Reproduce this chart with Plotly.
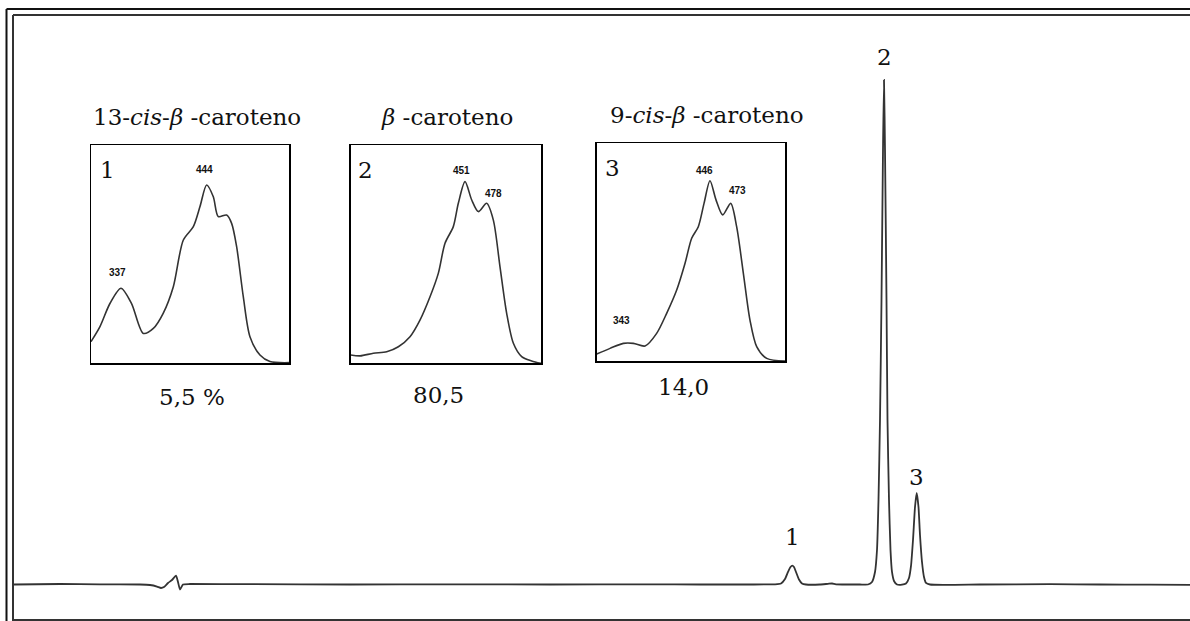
import plotly.graph_objects as go

W, H = 1190, 621

# ---------------- main chromatogram (retention time, min ; signal, % of peak 2) -------------
rt_min = [0.00, 0.46, 0.86, 1.26, 1.36, 1.43, 1.47, 1.50, 1.54, 1.58, 1.62, 1.64, 1.66, 1.69,
          1.76, 2.36, 3.36, 4.36, 5.36, 6.36, 6.86, 7.36, 7.61, 7.67, 7.71, 7.74, 7.765, 7.783,
          7.80, 7.82, 7.85, 7.88, 7.92, 8.06, 8.14, 8.18, 8.22, 8.46, 8.54, 8.58, 8.61, 8.63,
          8.645, 8.66, 8.675, 8.69, 8.70, 8.71, 8.725, 8.735, 8.75, 8.765, 8.78, 8.80, 8.83,
          8.88, 8.92, 8.95, 8.97, 8.99, 9.01, 9.027, 9.045, 9.06, 9.08, 9.10, 9.12, 9.16,
          9.66, 10.36, 10.86, 11.36, 11.76]
signal = [0.0, 0.1, 0.04, 0.0, -0.1, -0.4, -0.69, -0.5, 0.3, 0.89, 1.78, 0.5, -0.99, 0.0,
          0.1, 0.06, 0.0, 0.04, 0.0, 0.02, 0.0, 0.0, 0.04, 0.2, 1.09, 2.48, 3.47, 3.73,
          3.47, 2.48, 0.99, 0.2, 0.0, 0.0, 0.14, 0.2, 0.04, 0.0, 0.0, 0.5, 2.48, 6.84,
          16.75, 32.61, 56.39, 86.12, 100.0, 86.12, 56.39, 32.61, 16.75, 6.84, 2.48, 0.69, 0.0,
          -0.04, 0.2, 1.29, 3.67, 8.82, 15.36, 18.14, 15.36, 9.81, 4.46, 1.49, 0.3, 0.0,
          0.0, 0.06, 0.0, -0.02, -0.06]

peak_labels = ["1", "2", "3"]
peak_rt = [7.783, 8.70, 9.027]

# ---------------- UV-Vis spectra of the three peaks (wavelength nm ; normalised absorbance) ----
wl_1 = [300, 311.3, 324, 337.8, 351, 366, 378.6, 391, 403.8, 416.4, 429, 437.4, 445.8, 454.2,
        460.5, 471, 477.3, 483.6, 492, 500.4, 513, 525.6, 550]
abs_1 = [0.099, 0.168, 0.275, 0.344, 0.275, 0.137, 0.160, 0.229, 0.351, 0.565, 0.626, 0.718,
         0.817, 0.763, 0.672, 0.679, 0.641, 0.534, 0.305, 0.122, 0.038, 0.008, 0.003]

wl_2 = [300, 312.3, 329.8, 347.3, 362.6, 377.9, 391, 404.2, 415.1, 423.9, 434.8, 441.4, 450.2,
        459, 467.7, 478.6, 487.4, 496.1, 504.9, 513.7, 524.6, 537.7, 550]
abs_2 = [0.038, 0.034, 0.046, 0.053, 0.076, 0.122, 0.198, 0.305, 0.412, 0.550, 0.626, 0.733,
         0.832, 0.748, 0.695, 0.733, 0.656, 0.443, 0.229, 0.092, 0.031, 0.011, 0.0]

wl_3 = [300, 317.7, 335.4, 348.7, 364.2, 379.6, 392.9, 406.2, 417.3, 426.1, 434.9, 442.5, 450.4,
        458.4, 467.3, 477.9, 485.8, 494.7, 503.5, 512.4, 525.7, 550]
abs_3 = [0.032, 0.058, 0.081, 0.081, 0.069, 0.127, 0.219, 0.326, 0.449, 0.564, 0.617, 0.724,
         0.828, 0.740, 0.671, 0.724, 0.617, 0.403, 0.188, 0.066, 0.012, 0.0]

inset_titles = ["13-<i>cis</i>-<i>β</i> -caroteno", "<i>β</i> -caroteno", "9-<i>cis</i>-<i>β</i> -caroteno"]
inset_numbers = ["1", "2", "3"]
inset_percent = ["5,5 %", "80,5", "14,0"]
max_labels = [["444", "337"], ["451", "478"], ["446", "473", "343"]]

# ---------------- layout geometry (pixels) ----------------
def px(x):
    return x / W

def py(y):
    return 1 - y / H

boxes = [(91, 289.3, 145, 363.3), (350.7, 541, 145, 363.3), (596.7, 785, 143.3, 361)]
title_pos = [(197, 117), (447, 117), (707, 115)]
number_pos = [(107, 170), (365, 170), (613, 168)]
percent_pos = [(192, 397), (438, 395), (683, 387)]
max_label_xy = [[(443.7, 0.89), (332.8, 0.414)],
                [(446.2, 0.881), (487.0, 0.78)],
                [(442.5, 0.873), (486.3, 0.781), (332.3, 0.184)]]
peak_label_py = [537, 57, 477]

LINE = "#333333"
SERIF = "DejaVu Serif"
FS = 23

fig = go.Figure()
fig.add_trace(go.Scatter(x=rt_min, y=signal, mode="lines",
                         line=dict(color=LINE, width=1.8, shape="spline", smoothing=0.5),
                         xaxis="x", yaxis="y", showlegend=False, hoverinfo="skip"))

spectra = [(wl_1, abs_1), (wl_2, abs_2), (wl_3, abs_3)]
for i, (wl, ab) in enumerate(spectra):
    k = i + 2
    fig.add_trace(go.Scatter(x=wl, y=ab, mode="lines",
                             line=dict(color=LINE, width=1.6, shape="spline", smoothing=0.8),
                             xaxis=f"x{k}", yaxis=f"y{k}", showlegend=False, hoverinfo="skip"))

layout = dict(
    width=W, height=H, margin=dict(l=0, r=0, t=0, b=0),
    paper_bgcolor="white", plot_bgcolor="rgba(0,0,0,0)",
    xaxis=dict(domain=[px(14), 1], range=[0, 11.76], visible=False, fixedrange=True),
    yaxis=dict(domain=[0, 1], range=[(584.5 - 621) / 5.045, 584.5 / 5.045], visible=False,
               fixedrange=True),
)
for i, (l, r, t, b) in enumerate(boxes):
    k = i + 2
    ax = dict(showline=True, mirror=True, linecolor="black", linewidth=1.5,
              showgrid=False, zeroline=False, showticklabels=False, ticks="", fixedrange=True)
    layout[f"xaxis{k}"] = dict(domain=[px(l), px(r)], range=[300, 550], anchor=f"y{k}", **ax)
    layout[f"yaxis{k}"] = dict(domain=[py(b), py(t)], range=[0, 1], anchor=f"x{k}", **ax)
fig.update_layout(**layout)

ann = []
for i in range(3):
    ann.append(dict(x=px(title_pos[i][0]), y=py(title_pos[i][1]), xref="paper", yref="paper",
                    text=inset_titles[i], showarrow=False, xanchor="center", yanchor="middle",
                    font=dict(family=SERIF, size=FS, color="#111")))
    ann.append(dict(x=px(number_pos[i][0]), y=py(number_pos[i][1]), xref="paper", yref="paper",
                    text=inset_numbers[i], showarrow=False, xanchor="center", yanchor="middle",
                    font=dict(family=SERIF, size=FS, color="#111")))
    ann.append(dict(x=px(percent_pos[i][0]), y=py(percent_pos[i][1]), xref="paper", yref="paper",
                    text=inset_percent[i], showarrow=False, xanchor="center", yanchor="middle",
                    font=dict(family=SERIF, size=FS, color="#111")))
    for lab, (lx, ly) in zip(max_labels[i], max_label_xy[i]):
        ann.append(dict(x=lx, y=ly, xref=f"x{i+2}", yref=f"y{i+2}", text=f"<b>{lab}</b>",
                        showarrow=False, xanchor="center", yanchor="middle",
                        font=dict(family="Liberation Sans Narrow, Liberation Sans", size=10,
                                  color="#111")))
for lab, x, y_px in zip(peak_labels, peak_rt, peak_label_py):
    ann.append(dict(x=x, y=py(y_px), xref="x", yref="paper", text=lab, showarrow=False,
                    xanchor="center", yanchor="middle",
                    font=dict(family=SERIF, size=FS, color="#111")))
fig.update_layout(annotations=ann)

# double frame (open on the right)
shapes = [
    dict(type="line", xref="paper", yref="paper", x0=px(6.5), x1=px(6.5), y0=py(9), y1=0,
         line=dict(color="#111", width=2)),
    dict(type="line", xref="paper", yref="paper", x0=px(6.5), x1=1, y0=py(9), y1=py(9),
         line=dict(color="#111", width=2)),
    dict(type="line", xref="paper", yref="paper", x0=px(13), x1=px(13), y0=py(15), y1=0,
         line=dict(color="#333", width=2)),
    dict(type="line", xref="paper", yref="paper", x0=px(13), x1=1, y0=py(15), y1=py(15),
         line=dict(color="#333", width=2)),
    dict(type="line", xref="paper", yref="paper", x0=px(13), x1=1, y0=py(620), y1=py(620),
         line=dict(color="#333", width=2)),
]
fig.update_layout(shapes=shapes)

fig.write_html("out.html", config={"displayModeBar": False, "staticPlot": True},
               post_script="document.body.style.margin='0';document.body.style.overflow='hidden';")
